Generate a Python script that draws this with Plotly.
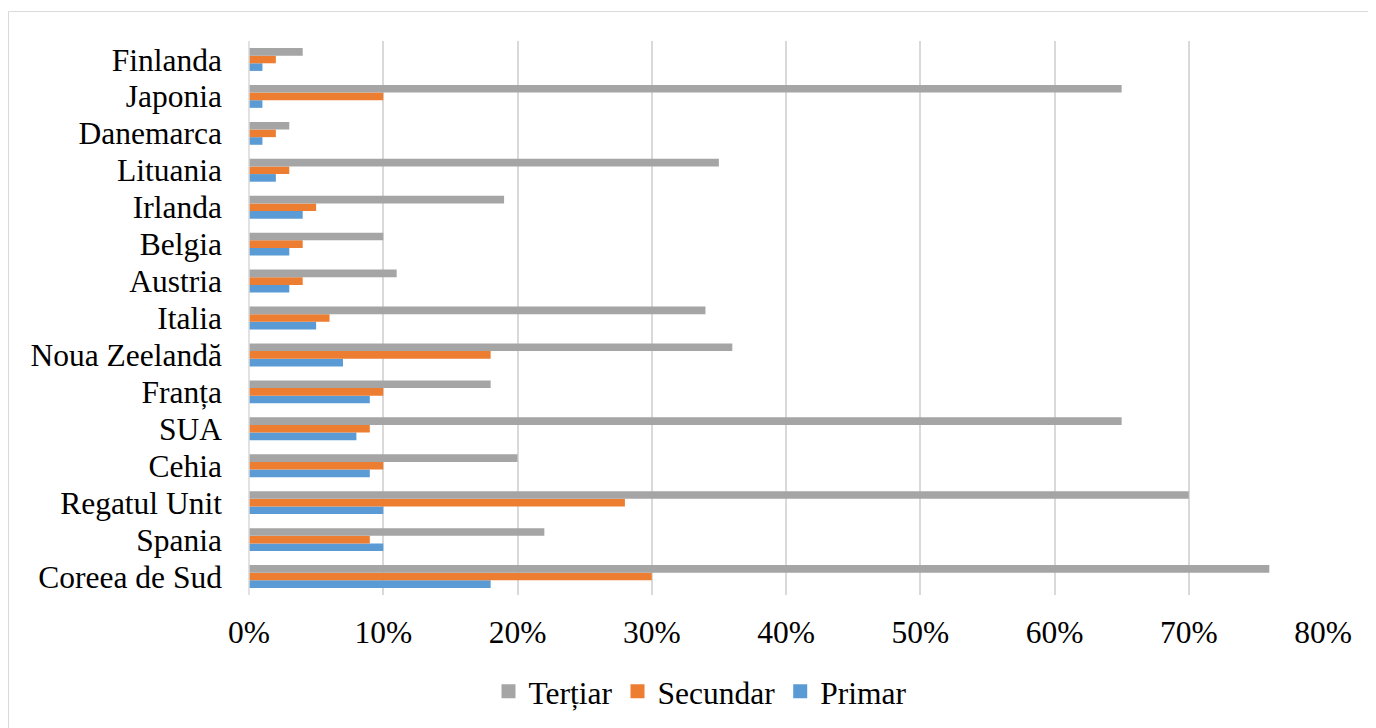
import plotly.graph_objects as go

categories = ["Coreea de Sud", "Spania", "Regatul Unit", "Cehia", "SUA", "Franța",
              "Noua Zeelandă", "Italia", "Austria", "Belgia", "Irlanda", "Lituania",
              "Danemarca", "Japonia", "Finlanda"]
primar = [18, 10, 10, 9, 8, 9, 7, 5, 3, 3, 4, 2, 1, 1, 1]
secundar = [30, 9, 28, 10, 9, 10, 18, 6, 4, 4, 5, 3, 2, 10, 2]
tertiar = [76, 22, 70, 20, 65, 18, 36, 34, 11, 10, 19, 35, 3, 65, 4]
tick_vals = [0, 0.1, 0.2, 0.3, 0.4, 0.5, 0.6, 0.7, 0.8]
tick_text = ["0%", "10%", "20%", "30%", "40%", "50%", "60%", "70%", "80%"]

FONT = "Liberation Serif"
FS = 31.5
W, H = 1376, 728
L, R, T, B = 241, 61, 32.5, 140.5
PW, PH = W - L - R, H - T - B


def px(x):
    return (x - L) / PW


def py(y):
    return (H - B - y) / PH


fig = go.Figure()
series = [("Primar", primar, "#5B9BD5"),
          ("Secundar", secundar, "#ED7D31"),
          ("Terțiar", tertiar, "#A5A5A5")]
for name, vals, col in series:
    fig.add_trace(go.Bar(y=categories, x=[v / 100 for v in vals], name=name,
                         orientation="h", showlegend=False,
                         marker=dict(color=col, line=dict(width=0))))
for name, vals, col in series:
    fig.add_trace(go.Scatter(x=[None], y=[None], mode="markers", name=name,
                             marker=dict(symbol="square", size=14, color=col)))

fig.update_layout(
    width=W, height=H,
    margin=dict(l=L, r=R, t=T, b=B),
    paper_bgcolor="white", plot_bgcolor="white",
    barmode="group", bargap=0.38, bargroupgap=0,
    font=dict(family=FONT, size=FS, color="black"),
    xaxis=dict(range=[0, 0.8], tickvals=tick_vals, ticktext=tick_text,
               showgrid=True, gridcolor="#D9D9D9", gridwidth=1.5,
               zeroline=False, showline=False, ticks="", ticklabelstandoff=15,
               fixedrange=True),
    yaxis=dict(type="category", categoryorder="array", categoryarray=categories,
               tickmode="array", tickvals=categories, ticktext=categories,
               showgrid=False, zeroline=False, showline=False, ticks="",
               ticklabelstandoff=26),
    legend=dict(orientation="h", traceorder="reversed", x=px(692), xanchor="center",
                y=py(684), yanchor="middle", font=dict(size=FS), itemwidth=30),
    showlegend=True,
)
fig.add_shape(type="line", xref="paper", yref="paper", x0=0, x1=0, y0=0, y1=1,
              line=dict(color="#D9D9D9", width=1.5))
fig.add_shape(type="rect", xref="paper", yref="paper",
              x0=px(0.5), x1=px(W + 5), y0=py(H + 5), y1=py(3),
              line=dict(color="#D9D9D9", width=1), layer="below")
fig.write_html("out.html")
